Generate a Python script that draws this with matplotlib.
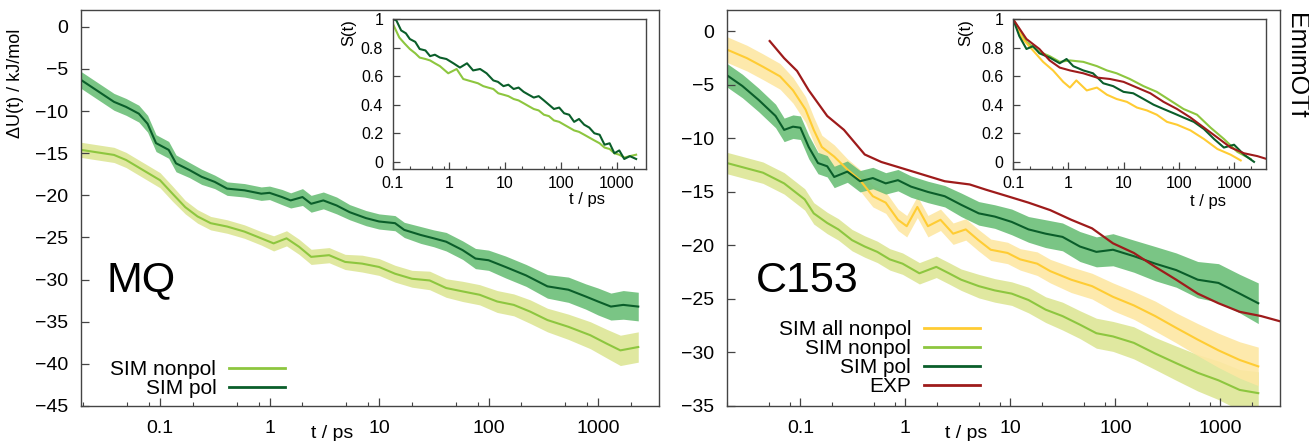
import numpy as np
import matplotlib
matplotlib.use('Agg')
import matplotlib.pyplot as plt
from matplotlib.ticker import FixedLocator, LogLocator, NullFormatter

plt.rcParams['font.family'] = ['Liberation Sans', 'DejaVu Sans']

# colours
c_nonpol = '#8dc63f'
c_nonpol_band = '#dde696'
c_pol = '#0a5e2a'
c_pol_band = '#6cbf78'
c_all = '#ffcc33'
c_all_band = '#fde7a3'
c_exp = '#9e1b1b'

# ---------------- MQ panel (left) ----------------
mq_pol_t = [0.019, 0.038, 0.049, 0.064, 0.077, 0.092, 0.12, 0.14, 0.186, 0.24, 0.316, 0.41,
            0.59, 0.84, 1.0, 1.3, 1.56, 2.0, 2.4, 3.1, 4.1, 5.4, 7.6, 10, 14, 17, 24, 31.6,
            41, 58, 76, 100, 143, 220, 345, 536, 770, 1000, 1310, 1700, 2330]
mq_pol_u = [-6.3, -8.9, -9.5, -10.3, -11.5, -13.8, -14.6, -16.2, -17.0, -17.8, -18.4, -19.2,
            -19.4, -19.8, -19.7, -20.2, -20.6, -20.2, -21.0, -20.6, -21.2, -22.0, -22.7, -23.1,
            -23.3, -24.1, -24.7, -25.1, -25.5, -26.5, -27.5, -27.7, -28.5, -29.5, -30.8, -31.2,
            -32.0, -32.6, -33.2, -33.0, -33.2]
mq_pol_err = [1.0, 1.0, 1.0, 1.0, 1.0, 1.0, 1.0, 1.0, 0.9, 0.9, 0.8, 0.8,
              0.8, 0.8, 0.8, 0.9, 0.9, 1.0, 1.0, 1.0, 1.0, 0.9, 0.9, 0.9,
              0.9, 0.9, 1.0, 1.0, 1.1, 1.1, 1.2, 1.2, 1.3, 1.3, 1.4, 1.5,
              1.5, 1.6, 1.6, 1.7, 1.7]

mq_nonpol_t = [0.019, 0.038, 0.049, 0.07, 0.1, 0.13, 0.17, 0.22, 0.29, 0.41, 0.59, 0.84,
               1.09, 1.43, 1.86, 2.4, 3.5, 4.9, 7.0, 10, 14, 20, 29, 41, 58, 83, 120, 170,
               240, 345, 536, 850, 1200, 1600, 2330]
mq_nonpol_u = [-14.6, -15.2, -15.8, -17.0, -18.2, -19.8, -21.4, -22.5, -23.3, -23.7, -24.3, -25.1,
               -25.7, -25.1, -26.1, -27.3, -27.1, -27.9, -28.1, -28.5, -29.3, -29.9, -30.1,
               -31.0, -31.4, -31.8, -32.6, -33.0, -33.8, -34.8, -35.6, -36.6, -37.6, -38.4, -38.0]
mq_nonpol_err = [0.9, 0.9, 0.9, 0.9, 0.9, 0.9, 0.8, 0.8, 0.8, 0.8, 0.8, 0.8,
                 0.9, 0.9, 0.9, 0.9, 0.9, 0.9, 1.0, 1.0, 1.0, 1.0, 1.1,
                 1.1, 1.2, 1.2, 1.3, 1.3, 1.4, 1.4, 1.5, 1.6, 1.7, 1.8, 1.8]

mq_s_pol_t = [0.1, 0.115, 0.14, 0.17, 0.2, 0.25, 0.3, 0.38, 0.46, 0.56, 0.69, 0.9, 1.2, 1.57,
              2.1, 2.7, 3.6, 4.7, 6.2, 7.5, 9.4, 11.5, 14.3, 17.5, 21.6, 26.5, 32.7, 40, 49.6,
              61, 75, 93, 114, 140, 172, 210, 260, 320, 395, 490, 600, 740, 900, 1100, 1350,
              1700, 2200]
mq_s_pol = [1.0, 0.99, 0.92, 0.90, 0.86, 0.84, 0.79, 0.78, 0.74, 0.75, 0.73, 0.72, 0.69, 0.66,
            0.69, 0.64, 0.65, 0.62, 0.57, 0.56, 0.53, 0.54, 0.51, 0.52, 0.49, 0.47, 0.45, 0.46,
            0.43, 0.40, 0.37, 0.38, 0.34, 0.33, 0.28, 0.30, 0.26, 0.24, 0.20, 0.19, 0.12, 0.13,
            0.06, 0.08, 0.02, 0.04, 0.02]
mq_s_nonpol_t = [0.1, 0.13, 0.16, 0.2, 0.25, 0.3, 0.38, 0.46, 0.56, 0.69, 0.97, 1.37, 1.8, 2.2,
                 2.7, 3.3, 4.1, 5.0, 6.2, 7.6, 9.4, 11.5, 14.3, 17.5, 21.6, 26.5, 32.7, 40, 49.6,
                 61, 75, 93, 114, 140, 172, 210, 260, 320, 395, 490, 600, 740, 900, 1100, 1350,
                 1700, 2200]
mq_s_nonpol = [0.965, 0.87, 0.83, 0.79, 0.76, 0.73, 0.72, 0.71, 0.69, 0.67, 0.62, 0.65, 0.58,
               0.57, 0.56, 0.55, 0.53, 0.52, 0.51, 0.48, 0.47, 0.46, 0.44, 0.43, 0.41, 0.39,
               0.37, 0.36, 0.33, 0.32, 0.29, 0.28, 0.26, 0.24, 0.22, 0.21, 0.19, 0.17, 0.15,
               0.13, 0.10, 0.09, 0.06, 0.05, 0.03, 0.04, 0.05]

# ---------------- C153 panel (right) ----------------
c_all_t = [0.02, 0.031, 0.044, 0.064, 0.085, 0.112, 0.134, 0.16, 0.21, 0.28, 0.37, 0.49, 0.65,
           0.85, 1.03, 1.3, 1.64, 2.16, 2.85, 3.76, 4.96, 6.5, 9.4, 12.4, 18, 24, 38, 60, 95,
           150, 240, 380, 610, 960, 1530, 2300]
c_all_u = [-1.7, -2.5, -3.3, -4.2, -5.5, -7.3, -9.2, -10.8, -11.7, -12.9, -13.9, -15.4, -16.0,
           -17.6, -18.2, -16.4, -18.2, -17.6, -18.9, -18.5, -19.5, -20.4, -20.7, -21.3, -21.7,
           -22.4, -23.2, -23.8, -24.8, -25.6, -26.6, -27.7, -28.8, -29.8, -30.7, -31.3]
c_all_err = [1.2, 1.2, 1.2, 1.2, 1.2, 1.2, 1.2, 1.1, 1.1, 1.0, 1.0, 1.0, 1.0,
             1.0, 1.0, 1.0, 1.0, 1.0, 1.0, 1.0, 1.0, 1.0, 1.0, 1.0, 1.1,
             1.1, 1.2, 1.2, 1.3, 1.3, 1.4, 1.4, 1.5, 1.6, 1.7, 1.8]

c_nonpol_t = [0.02, 0.031, 0.044, 0.07, 0.11, 0.134, 0.18, 0.23, 0.31, 0.41, 0.54, 0.71, 0.94,
              1.36, 1.97, 2.6, 3.4, 5.0, 7.1, 10.3, 14.9, 21.7, 31.4, 46, 66, 95, 150, 240,
              380, 610, 960, 1530, 2300]
c_nonpol_u = [-12.3, -12.8, -13.2, -14.2, -15.7, -17.0, -17.9, -18.5, -19.5, -20.1, -20.6, -21.3,
              -21.7, -22.6, -22.0, -22.6, -23.2, -23.8, -24.2, -24.5, -25.1, -26.0, -26.6, -27.4,
              -28.2, -28.5, -29.1, -30.1, -31.0, -31.9, -32.6, -33.5, -33.8]
c_nonpol_err = [1.0, 1.0, 1.0, 1.0, 1.0, 1.0, 1.0, 1.0, 1.0, 1.0, 1.0, 1.0, 1.0,
                1.0, 1.0, 1.0, 1.0, 1.1, 1.1, 1.1, 1.2, 1.2, 1.3, 1.3,
                1.4, 1.4, 1.5, 1.5, 1.6, 1.7, 1.8, 1.9, 2.0]

c_pol_t = [0.02, 0.028, 0.04, 0.058, 0.07, 0.085, 0.1, 0.12, 0.147, 0.18, 0.21, 0.28, 0.37,
           0.49, 0.65, 0.85, 1.13, 1.64, 2.37, 3.4, 5.0, 7.1, 10.3, 14.9, 21.7, 31.4, 46, 66,
           95, 150, 240, 380, 610, 960, 1530, 2300]
c_pol_u = [-4.1, -5.1, -6.4, -7.9, -9.2, -8.9, -9.0, -10.8, -12.3, -12.6, -13.6, -13.1, -14.0,
           -13.7, -14.2, -13.9, -14.5, -15.0, -15.4, -16.2, -17.0, -17.3, -17.8, -18.5, -18.9,
           -19.2, -20.1, -20.6, -20.4, -21.0, -21.7, -22.3, -23.2, -23.5, -24.5, -25.4]
c_pol_err = [1.1, 1.1, 1.1, 1.1, 1.1, 1.1, 1.1, 1.1, 1.0, 1.0, 1.0, 1.0, 1.0,
             1.0, 1.0, 1.0, 1.0, 1.0, 1.0, 1.1, 1.1, 1.1, 1.2, 1.2, 1.3,
             1.3, 1.4, 1.4, 1.5, 1.5, 1.6, 1.6, 1.7, 1.8, 1.8, 1.9]

c_exp_t = [0.051, 0.07, 0.093, 0.12, 0.18, 0.26, 0.41, 0.59, 0.94, 1.49, 2.37, 4.1, 5.9, 9.4,
           14.9, 24, 38, 60, 95, 150, 240, 380, 610, 960, 1530, 2450, 3750]
c_exp_u = [-0.9, -2.5, -3.7, -5.5, -7.9, -9.2, -11.5, -12.2, -12.8, -13.4, -14.0, -14.3, -14.8,
           -15.4, -16.0, -16.7, -17.6, -18.4, -19.8, -20.7, -22.0, -23.2, -24.5, -25.4, -26.2,
           -26.6, -27.1]

c_s_exp_t = [0.1, 0.175, 0.3, 0.46, 0.7, 1.07, 1.87, 3.3, 5.7, 10, 17.5, 30.6, 53, 93, 163,
             285, 500, 870, 1520, 2650, 3900]
c_s_exp = [1.0, 0.86, 0.79, 0.71, 0.66, 0.64, 0.62, 0.59, 0.58, 0.56, 0.52, 0.48, 0.42, 0.37,
           0.31, 0.24, 0.17, 0.10, 0.06, 0.04, 0.02]
c_s_all_t = [0.1, 0.15, 0.23, 0.35, 0.53, 0.81, 1.07, 1.4, 2.16, 3.3, 5.0, 7.5, 11.5, 17.5,
             26.5, 40, 61, 93, 163, 285, 500, 870, 1320]
c_s_all = [1.0, 0.86, 0.78, 0.70, 0.64, 0.56, 0.52, 0.57, 0.50, 0.52, 0.47, 0.44, 0.42, 0.38,
           0.36, 0.33, 0.28, 0.26, 0.22, 0.16, 0.09, 0.05, 0.01]
c_s_nonpol_t = [0.1, 0.175, 0.3, 0.46, 0.7, 1.07, 1.87, 3.3, 5.0, 7.5, 13, 23, 40, 70, 122,
                214, 375, 656, 1150, 2000]
c_s_nonpol = [1.0, 0.84, 0.77, 0.74, 0.70, 0.71, 0.70, 0.67, 0.64, 0.62, 0.58, 0.53, 0.49,
              0.43, 0.37, 0.33, 0.24, 0.16, 0.07, 0.02]
c_s_pol_t = [0.1, 0.13, 0.175, 0.23, 0.3, 0.46, 0.7, 0.93, 1.23, 1.87, 2.8, 4.3, 6.5, 10, 15,
             23, 35, 53, 81, 122, 187, 285, 435, 656, 1000, 1520, 2300]
c_s_pol = [1.0, 0.88, 0.79, 0.81, 0.76, 0.73, 0.69, 0.72, 0.67, 0.64, 0.62, 0.55, 0.53, 0.49,
           0.48, 0.44, 0.40, 0.37, 0.34, 0.31, 0.28, 0.23, 0.16, 0.10, 0.12, 0.05, 0.0]

xticks = [0.1, 1, 10, 100, 1000]
xticklabels = ['0.1', '1', '10', '100', '1000']
spine_col = '#444444'


def style(ax, yt, ylim, xlim, fs, pad_x, pad_y, maj=6, mnr=3):
    ax.set_xscale('log')
    ax.set_xlim(*xlim)
    ax.set_ylim(*ylim)
    ax.xaxis.set_major_locator(FixedLocator(xticks))
    ax.set_xticklabels(xticklabels)
    ax.xaxis.set_minor_locator(LogLocator(base=10, subs=(2, 5, 8)))
    ax.xaxis.set_minor_formatter(NullFormatter())
    ax.set_yticks(yt)
    ax.set_yticklabels([('%g' % v).replace('-', '\u2212') for v in yt])
    ax.tick_params(which='major', direction='in', length=maj, width=0.9, color=spine_col,
                   labelsize=fs, top=False, right=False)
    ax.tick_params(which='minor', direction='in', length=mnr, width=0.8, color=spine_col,
                   top=False, right=False)
    ax.tick_params(axis='x', pad=pad_x)
    ax.tick_params(axis='y', pad=pad_y)
    for s in ax.spines.values():
        s.set_color(spine_col)
        s.set_linewidth(1.0)


def band(ax, t, u, err, col, band_col, lw=1.5):
    t = np.array(t)
    u = np.array(u)
    e = np.array(err)
    ax.fill_between(t, u - e, u + e, color=band_col, lw=0, alpha=0.9)
    ax.plot(t, u, color=col, lw=lw)


fig = plt.figure(figsize=(13.09, 4.41), dpi=100)

# main axes
axL = fig.add_axes([0.0619, 0.0794, 0.4415, 0.8979])
axR = fig.add_axes([0.5554, 0.0794, 0.4224, 0.8979])

band(axL, mq_nonpol_t, mq_nonpol_u, mq_nonpol_err, c_nonpol, c_nonpol_band)
band(axL, mq_pol_t, mq_pol_u, mq_pol_err, c_pol, c_pol_band)
style(axL, list(range(0, -50, -5)), (-45, 2), (0.019, 3600), 14, 10, 9)
axL.plot([], [], color=c_nonpol, lw=2, label='SIM nonpol')
axL.plot([], [], color=c_pol, lw=2, label='SIM pol')
axL.legend(loc='center right', bbox_to_anchor=(0.353, 0.068), frameon=False, markerfirst=False,
           fontsize=15, handlelength=2.7, handletextpad=0.6, borderpad=0, borderaxespad=0,
           labelspacing=0.0)

band(axR, c_nonpol_t, c_nonpol_u, c_nonpol_err, c_nonpol, c_nonpol_band)
band(axR, c_all_t, c_all_u, c_all_err, c_all, c_all_band)
band(axR, c_pol_t, c_pol_u, c_pol_err, c_pol, c_pol_band)
axR.plot(c_exp_t, c_exp_u, color=c_exp, lw=1.6)
style(axR, list(range(0, -40, -5)), (-35, 2), (0.02, 3700), 14, 10, 9)
axR.plot([], [], color=c_all, lw=2, label='SIM all nonpol')
axR.plot([], [], color=c_nonpol, lw=2, label='SIM nonpol')
axR.plot([], [], color=c_pol, lw=2, label='SIM pol')
axR.plot([], [], color=c_exp, lw=2, label='EXP')
axR.legend(loc='center right', bbox_to_anchor=(0.4575, 0.121), frameon=False, markerfirst=False,
           fontsize=15, handlelength=2.7, handletextpad=0.6, borderpad=0, borderaxespad=0,
           labelspacing=0.0)

fig.text(0.012, 0.81, '\u0394U(t) / kJ/mol', rotation=90, ha='center', va='center', fontsize=13)
fig.text(0.2536, 0.018, 't / ps', ha='center', va='center', fontsize=14)
fig.text(0.738, 0.018, 't / ps', ha='center', va='center', fontsize=14)
fig.text(0.1077, 0.365, 'MQ', ha='center', va='center', fontsize=31)
fig.text(0.617, 0.363, 'C153', ha='center', va='center', fontsize=31)
fig.text(0.990, 0.852, 'EmimOTf', rotation=-90, ha='center', va='center', fontsize=18)

# insets
inL = fig.add_axes([0.3002, 0.6168, 0.1933, 0.3401])
inR = fig.add_axes([0.7739, 0.6168, 0.1933, 0.3401])
for ax in (inL, inR):
    ax.set_facecolor('white')

inL.plot(mq_s_nonpol_t, mq_s_nonpol, color=c_nonpol, lw=1.5)
inL.plot(mq_s_pol_t, mq_s_pol, color=c_pol, lw=1.5)
style(inL, [0, 0.2, 0.4, 0.6, 0.8, 1], (-0.05, 1), (0.1, 3300), 11.5, 5, 7, maj=5, mnr=2.5)
inL.set_yticklabels(['0', '0.2', '0.4', '0.6', '0.8', '1'])

inR.plot(c_s_nonpol_t, c_s_nonpol, color=c_nonpol, lw=1.5)
inR.plot(c_s_all_t, c_s_all, color=c_all, lw=1.5)
inR.plot(c_s_pol_t, c_s_pol, color=c_pol, lw=1.5)
inR.plot(c_s_exp_t, c_s_exp, color=c_exp, lw=1.5)
style(inR, [0, 0.2, 0.4, 0.6, 0.8, 1], (-0.05, 1), (0.1, 3800), 11.5, 5, 7, maj=5, mnr=2.5)
inR.set_yticklabels(['0', '0.2', '0.4', '0.6', '0.8', '1'])

fig.text(0.2666, 0.927, 'S(t)', rotation=90, ha='center', va='center', fontsize=12)
fig.text(0.738, 0.927, 'S(t)', rotation=90, ha='center', va='center', fontsize=12)
fig.text(0.4484, 0.5465, 't / ps', ha='center', va='center', fontsize=12)
fig.text(0.923, 0.542, 't / ps', ha='center', va='center', fontsize=12)

fig.savefig('out.png', dpi=100)
